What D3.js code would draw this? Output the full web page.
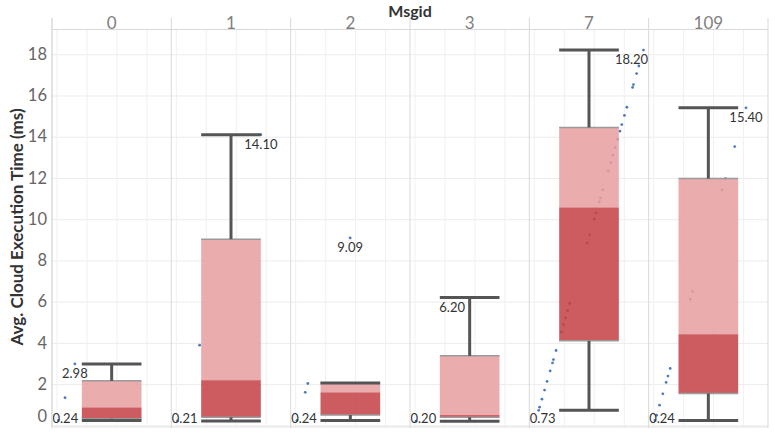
<!DOCTYPE html>
<html><head><meta charset="utf-8">
<script src="https://cdn.jsdelivr.net/npm/d3@7"></script>
<style>
body{margin:0;background:#fff}
svg{display:block}
text{font-family:Lato,"Open Sans",sans-serif}
</style>
</head><body>
<svg id="c" width="775" height="436"></svg>
<script>
// ---- data ----
const msgids = ["0", "1", "2", "3", "7", "109"];
const lowerWhisker = [0.24, 0.21, 0.24, 0.20, 0.73, 0.24];
const q1 = [0.32, 0.39, 0.50, 0.39, 4.10, 1.55];
const median = [0.87, 2.19, 1.60, 0.50, 10.57, 4.42];
const q3 = [2.16, 9.03, 2.05, 3.37, 14.45, 11.97];
const upperWhisker = [2.98, 14.10, 2.05, 6.20, 18.20, 15.40];
const points0 = [0.24, 1.34, 2.98];
const points1 = [0.21, 3.89, 14.10];
const points2 = [0.24, 1.60, 2.03, 9.09];
const points3 = [0.20, 6.20];
const points7 = [0.73, 0.88, 1.27, 1.71, 2.13, 2.64, 3.03, 3.19, 3.63, 4.52, 4.89, 5.21, 5.57, 5.91,
  8.85, 9.24, 10.00, 10.31, 10.84, 11.03, 11.42, 12.34, 12.75, 13.10, 13.48, 13.88, 14.27, 14.59,
  15.03, 15.43, 16.39, 16.53, 17.06, 17.43, 18.20];
const points109 = [0.24, 0.49, 0.98, 1.53, 2.08, 2.39, 2.76, 6.11, 6.49, 11.42, 11.97, 13.52, 15.40];
const yTicks = [0, 2, 4, 6, 8, 10, 12, 14, 16, 18];
const xGridTicks = [0, 5, 10, 15];
const yTitle = "Avg. Cloud Execution Time (ms)";
const colTitle = "Msgid";

const pointSets = [points0, points1, points2, points3, points7, points109];

// ---- layout ----
const L = 52, R = 768, T = 29.5, B = 427, headTop = 18;
const svg = d3.select("#c");
const band = d3.scaleBand().domain(msgids).range([L, R]);
const bw = band.bandwidth();
const y = d3.scaleLinear().domain([-0.08, 19.2]).range([B, T]);
const xIn = d3.scaleLinear().domain([-0.83, 19.07]).range([0, bw]);

const pinkC = "#E79EA0", darkC = "#C44045", boxOp = 0.85;

// horizontal gridlines
svg.append("g").attr("transform", `translate(${L},0)`)
  .call(d3.axisLeft(y).tickValues(yTicks).tickSize(-(R - L)).tickFormat(""))
  .call(g => g.select(".domain").remove())
  .call(g => g.selectAll("line").attr("stroke", "#ececec").attr("stroke-width", 1));

// panels
const panels = svg.selectAll("g.panel").data(msgids).join("g")
  .attr("class", "panel").attr("transform", d => `translate(${band(d)},0)`);

// vertical inner gridlines
panels.each(function () {
  d3.select(this).selectAll("line.vg").data(xGridTicks).join("line")
    .attr("x1", d => xIn(d)).attr("x2", d => xIn(d))
    .attr("y1", T).attr("y2", B).attr("stroke", "#f0f0f0");
});

// dots
panels.each(function (d, i) {
  d3.select(this).selectAll("circle").data(pointSets[i]).join("circle")
    .attr("cx", v => xIn(v)).attr("cy", v => y(v)).attr("r", 1.4).attr("fill", "#4a7cc4");
});

const bx = bw / 4, bwid = bw / 2, cx = bw / 2;

// boxes
panels.each(function (d, i) {
  const g = d3.select(this);
  g.append("rect").attr("x", bx).attr("width", bwid)
    .attr("y", y(q3[i])).attr("height", y(median[i]) - y(q3[i]))
    .attr("fill", pinkC).attr("fill-opacity", boxOp);
  g.append("rect").attr("x", bx).attr("width", bwid)
    .attr("y", y(median[i])).attr("height", y(q1[i]) - y(median[i]))
    .attr("fill", darkC).attr("fill-opacity", boxOp);
  [q3[i], q1[i]].forEach(v => g.append("line")
    .attr("x1", bx).attr("x2", bx + bwid).attr("y1", y(v)).attr("y2", y(v))
    .attr("stroke", "#9a9a9a").attr("stroke-width", 1.5));
  // whiskers
  const ln = (x1, y1, x2, y2) => g.append("line")
    .attr("x1", x1).attr("y1", y1).attr("x2", x2).attr("y2", y2)
    .attr("stroke", "#555").attr("stroke-width", 3);
  if (upperWhisker[i] > q3[i]) ln(cx, y(upperWhisker[i]), cx, y(q3[i]));
  ln(bx, y(upperWhisker[i]), bx + bwid, y(upperWhisker[i]));
  if (lowerWhisker[i] < q1[i]) ln(cx, y(q1[i]), cx, y(lowerWhisker[i]));
  ln(bx, y(lowerWhisker[i]), bx + bwid, y(lowerWhisker[i]));
});

// min / max labels
panels.each(function (d, i) {
  const g = d3.select(this);
  const pts = pointSets[i];
  [d3.min(pts), d3.max(pts)].forEach(v => {
    const t = g.append("text").text(v.toFixed(2))
      .attr("font-size", 13).attr("fill", "#333").attr("text-anchor", "middle");
    const w = t.node().getComputedTextLength();
    let xx = xIn(v);
    xx = Math.max(w / 2 + 0.5, Math.min(bw - w / 2 - 0.5, xx));
    const yy = Math.min(y(v) + 14, B - 4.5);
    t.attr("x", xx).attr("y", yy);
  });
});

// frame lines: header line, dividers
svg.append("line").attr("x1", L).attr("x2", R).attr("y1", T).attr("y2", T).attr("stroke", "#d9d9d9");
svg.append("line").attr("x1", L).attr("x2", R).attr("y1", B).attr("y2", B).attr("stroke", "#e2e2e2");
const divs = msgids.map(m => band(m)).concat([R]);
svg.selectAll("line.div").data(divs).join("line").attr("class", "div")
  .attr("x1", d => d).attr("x2", d => d).attr("y1", headTop).attr("y2", B + 1)
  .attr("stroke", "#d9d9d9");

// header labels
svg.selectAll("text.hd").data(msgids).join("text").attr("class", "hd")
  .attr("x", d => band(d) + bw / 2).attr("y", T - 0.5)
  .attr("text-anchor", "middle").attr("font-size", 17)
  .attr("fill", "#808080").text(d => d);
svg.append("text").attr("x", (L + R) / 2).attr("y", 17).attr("text-anchor", "middle")
  .attr("font-size", 16).attr("font-weight", 700).attr("fill", "#333").text(colTitle);

// y axis labels
svg.append("g").attr("transform", `translate(${L},0)`)
  .call(d3.axisLeft(y).tickValues(yTicks).tickSize(0).tickPadding(5))
  .call(g => g.select(".domain").remove())
  .call(g => g.selectAll("text").attr("font-size", 16.5).attr("fill", "#666")
    .attr("font-family", "Lato, 'Open Sans', sans-serif"))
  .call(g => g.selectAll(".tick").filter(d => d === 0).select("text").attr("y", -9));

svg.append("line").attr("x1", L).attr("x2", L).attr("y1", headTop).attr("y2", B).attr("stroke", "#d9d9d9");

// y title
svg.append("text").attr("transform", `translate(23,227) rotate(-90)`)
  .attr("text-anchor", "middle").attr("font-size", 17).attr("font-weight", 700)
  .attr("fill", "#333").text(yTitle);
</script>
</body></html>
